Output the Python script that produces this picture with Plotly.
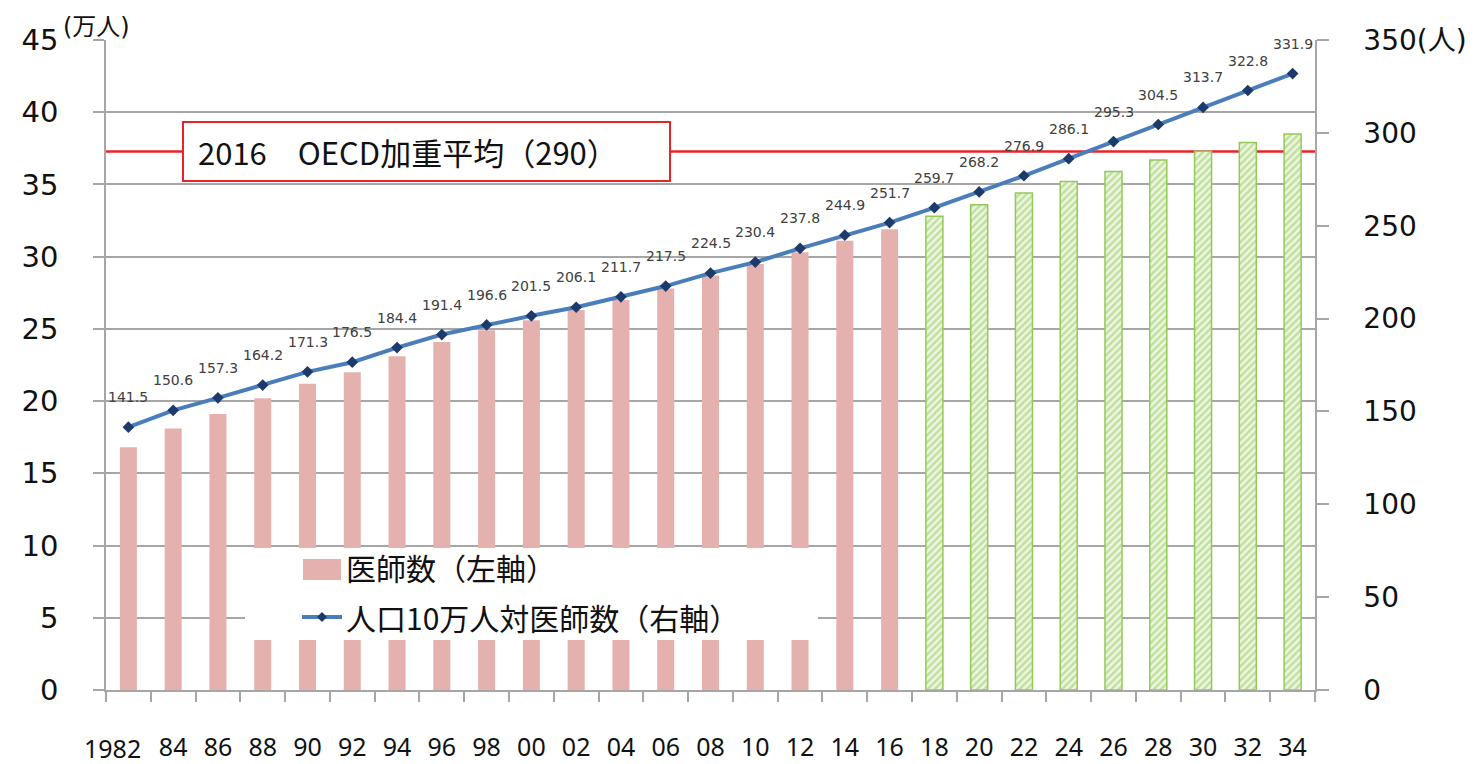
import plotly.graph_objects as go

# ---- data ----
years = [str(y) for y in range(1982, 2035, 2)]
year_labels = ["1982"] + [f"{y % 100:02d}" for y in range(1984, 2035, 2)]
doctors_actual = [16.8, 18.1, 19.1, 20.2, 21.2, 22.0, 23.1, 24.1, 24.9, 25.6,
                  26.3, 27.0, 27.8, 28.7, 29.5, 30.3, 31.1, 31.9]  # 1982-2016 (万人)
doctors_proj = [32.8, 33.6, 34.4, 35.2, 35.9, 36.7, 37.3, 37.9, 38.5]  # 2018-2034
per100k = [141.5, 150.6, 157.3, 164.2, 171.3, 176.5, 184.4, 191.4, 196.6, 201.5,
           206.1, 211.7, 217.5, 224.5, 230.4, 237.8, 244.9, 251.7, 259.7, 268.2,
           276.9, 286.1, 295.3, 304.5, 313.7, 322.8, 331.9]
oecd_value = 290
left_ticks = list(range(0, 46, 5))
right_ticks = list(range(0, 351, 50))
right_ticktext = [str(v) for v in right_ticks[:-1]] + ["350(人)"]

n_act = len(doctors_actual)
years_act = years[:n_act]
years_proj = years[n_act:]

# ---- layout geometry (pixels) ----
W, H = 1477, 764
L, R, T, B = 106, 1315, 40, 690


def px(x):
    return (x - L) / (R - L)


def py(y):
    return (B - y) / (B - T)


GRID = "#A6A6A6"
PINK = "#E5B1AF"
BLUE = "#4A7EBB"
NAVY = "#1C3A6B"
RED = "#E8232A"
JP = "Noto Sans CJK JP"

fig = go.Figure()

fig.add_trace(go.Bar(
    x=years_act, y=doctors_actual, name="医師数（左軸）",
    marker=dict(color=PINK, line=dict(width=0)), width=0.38, showlegend=False,
))
fig.add_trace(go.Bar(
    x=years_proj, y=doctors_proj, name="医師数（推計）",
    marker=dict(color="#EEF6E4", line=dict(color="#95C957", width=1.5),
                pattern=dict(shape="/", fgcolor="#93C956", bgcolor="#EEF6E4",
                             size=5, solidity=0.5)),
    width=0.38, showlegend=False,
))
fig.add_trace(go.Scatter(
    x=years, y=per100k, yaxis="y2", mode="lines+markers",
    name="人口10万人対医師数（右軸）",
    line=dict(color=BLUE, width=4),
    marker=dict(symbol="diamond", size=9, color=NAVY),
    showlegend=False, cliponaxis=False,
))

annotations = []
for i, v in enumerate(per100k):
    annotations.append(dict(
        x=i, y=v, xref="x", yref="y2", text=f"{v:.1f}", showarrow=False,
        yshift=30, font=dict(family="DejaVu Sans", size=14, color="#404040"),
    ))

# first year label (drawn separately, shifted left as in the original)
annotations.append(dict(
    x=0, y=py(748), xref="x", yref="paper", xshift=-16, yanchor="middle",
    text=year_labels[0], showarrow=False,
    font=dict(family="Noto Sans", size=25, color="#111"),
))
# axis unit label
annotations.append(dict(
    x=px(61), y=py(27), xref="paper", yref="paper", xanchor="left", yanchor="middle",
    text="(万人)", showarrow=False, font=dict(family="DejaVu Sans, " + JP, size=24, color="#111"),
))
# OECD box text
annotations.append(dict(
    x=px(196), y=py(152), xref="paper", yref="paper", xanchor="left", yanchor="middle",
    text="2016　OECD加重平均（290）", showarrow=False,
    font=dict(family=JP, size=31, color="#111"),
))
# legend texts
annotations.append(dict(
    x=px(344), y=py(567), xref="paper", yref="paper", xanchor="left", yanchor="middle",
    text="医師数（左軸）", showarrow=False, font=dict(family=JP, size=30, color="#111"),
))
annotations.append(dict(
    x=px(344), y=py(617), xref="paper", yref="paper", xanchor="left", yanchor="middle",
    text="人口10万人対医師数（右軸）", showarrow=False, font=dict(family=JP, size=30, color="#111"),
))

dcx, dcy = 322, 617
diamond = (f"M {px(dcx - 5)},{py(dcy)} L {px(dcx)},{py(dcy - 5)} "
           f"L {px(dcx + 5)},{py(dcy)} L {px(dcx)},{py(dcy + 5)} Z")

shapes = [
    dict(type="line", xref="paper", x0=0, x1=1, yref="y2", y0=oecd_value, y1=oecd_value,
         line=dict(color=RED, width=2.5), layer="below"),
    dict(type="rect", xref="paper", yref="paper", x0=px(183), x1=px(670), y0=py(181), y1=py(122),
         fillcolor="white", line=dict(color=RED, width=2), layer="above"),
    dict(type="rect", xref="paper", yref="paper", x0=px(245), x1=px(818), y0=py(640), y1=py(548),
         fillcolor="white", line=dict(width=0), layer="above"),
    dict(type="rect", xref="paper", yref="paper", x0=px(303), x1=px(341), y0=py(580), y1=py(559),
         fillcolor=PINK, line=dict(width=0), layer="above"),
    dict(type="line", xref="paper", yref="paper", x0=px(302), x1=px(342), y0=py(617), y1=py(617),
         line=dict(color=BLUE, width=4), layer="above"),
    dict(type="path", xref="paper", yref="paper", path=diamond,
         fillcolor=NAVY, line=dict(width=0), layer="above"),
]

fig.update_layout(
    width=W, height=H,
    margin=dict(l=L, r=W - R, t=T, b=H - B, pad=0, autoexpand=False),
    paper_bgcolor="white", plot_bgcolor="white",
    barmode="overlay",
    showlegend=False,
    xaxis=dict(
        type="category", categoryorder="array", categoryarray=years,
        range=[-0.5, len(years) - 0.5], automargin=False,
        tickmode="array", tickvals=years, ticktext=[""] + year_labels[1:],
        tickson="boundaries", ticks="outside", ticklen=10, tickcolor=GRID, tickwidth=1.5,
        showline=True, linecolor=GRID, linewidth=1.5, showgrid=False,
        tickfont=dict(family="Noto Sans", size=25, color="#111"),
        ticklabelstandoff=34, tickangle=0,
    ),
    yaxis=dict(
        range=[0, 45], tickmode="array", tickvals=left_ticks, automargin=False,
        showgrid=True, gridcolor=GRID, gridwidth=1.5, zeroline=False,
        ticks="outside", ticklen=11, tickcolor=GRID, tickwidth=1.5,
        showline=True, linecolor=GRID, linewidth=1.5,
        tickfont=dict(family="DejaVu Sans", size=29, color="#111"),
        ticklabelstandoff=29,
    ),
    yaxis2=dict(
        range=[0, 350], overlaying="y", side="right", automargin=False,
        tickmode="array", tickvals=right_ticks, ticktext=right_ticktext,
        showgrid=False, zeroline=False,
        ticks="outside", ticklen=12, tickcolor=GRID, tickwidth=1.5,
        showline=True, linecolor=GRID, linewidth=1.5,
        tickfont=dict(family="DejaVu Sans, " + JP, size=28, color="#111"),
        ticklabelstandoff=29,
    ),
    shapes=shapes,
    annotations=annotations,
)

fig.write_html("out.html", config={"displayModeBar": False},
               post_script="document.body.style.margin='0px';")
